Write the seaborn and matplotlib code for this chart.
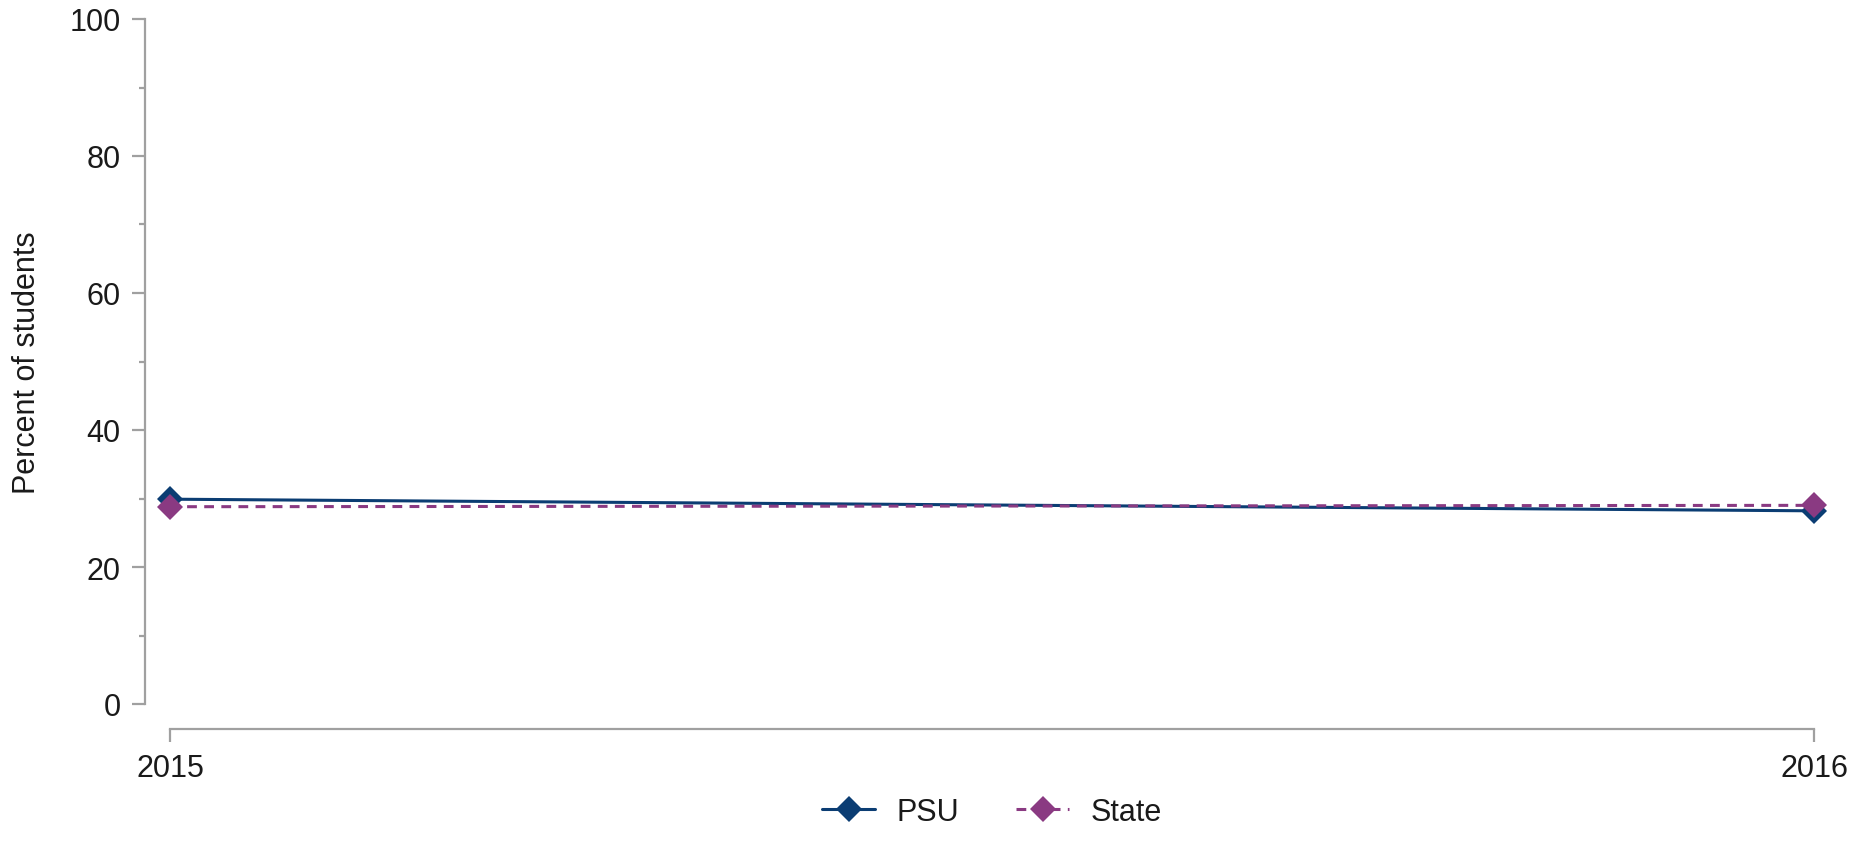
import numpy as np
import pandas as pd
import matplotlib
matplotlib.use('Agg')
import matplotlib.pyplot as plt
import seaborn as sns
from matplotlib.ticker import MultipleLocator

# 数据
years = [2015, 2016]
psu = [29.9, 28.2]
state = [28.8, 29.0]
groups = ['PSU', 'State']
colors = ['#0b3d73', '#8a3a82']

df = pd.DataFrame({
    'year': years * 2,
    'pct': psu + state,
    'group': [groups[0]] * len(years) + [groups[1]] * len(years),
})

sns.set_style('ticks')
plt.rcParams['font.family'] = ['Liberation Sans', 'DejaVu Sans']

W, H = 1873, 854
fig = plt.figure(figsize=(W / 100, H / 100), dpi=100)
ax = fig.add_axes([170 / W, 1 - 705 / H, (1814 - 170) / W, 685 / H])

sns.lineplot(data=df, x='year', y='pct', hue='group', style='group',
             palette=colors, markers={'PSU': 'D', 'State': 'D'},
             dashes={'PSU': '', 'State': (3.2, 2.4)},
             markersize=13, markeredgewidth=0, linewidth=2.2, clip_on=False, ax=ax)

ax.set_xlim(2015, 2016)
ax.set_ylim(0, 100)
ax.set_xticks(years)
ax.set_xticklabels([str(y) for y in years])
ax.set_yticks(range(0, 101, 20))
ax.yaxis.set_minor_locator(MultipleLocator(10))

sns.despine(ax=ax, offset=18)
ax.spines['left'].set_bounds(0, 100)
ax.spines['bottom'].set_bounds(2015, 2016)
for s in ['left', 'bottom']:
    ax.spines[s].set_color('#a0a0a0')
    ax.spines[s].set_linewidth(1.6)

ax.tick_params(axis='both', which='major', length=9.5, width=1.6, color='#a0a0a0',
               labelsize=22, labelcolor='#1a1a1a', pad=8)
ax.tick_params(axis='y', which='minor', length=4.5, width=1.6, color='#a0a0a0')

ax.set_xlabel('')
ax.set_ylabel('Percent of students', fontsize=22, color='#1a1a1a')
ax.yaxis.set_label_coords(-0.078, 0.5)

handles, labels = ax.get_legend_handles_labels()
ax.get_legend().remove()
fig.legend(handles, labels, loc='center', bbox_to_anchor=(992 / W, 1 - 813 / H),
           ncol=2, frameon=False, fontsize=22, handlelength=1.75,
           handletextpad=0.7, columnspacing=1.85, labelcolor='#1a1a1a')

fig.savefig('out.png', dpi=100)
